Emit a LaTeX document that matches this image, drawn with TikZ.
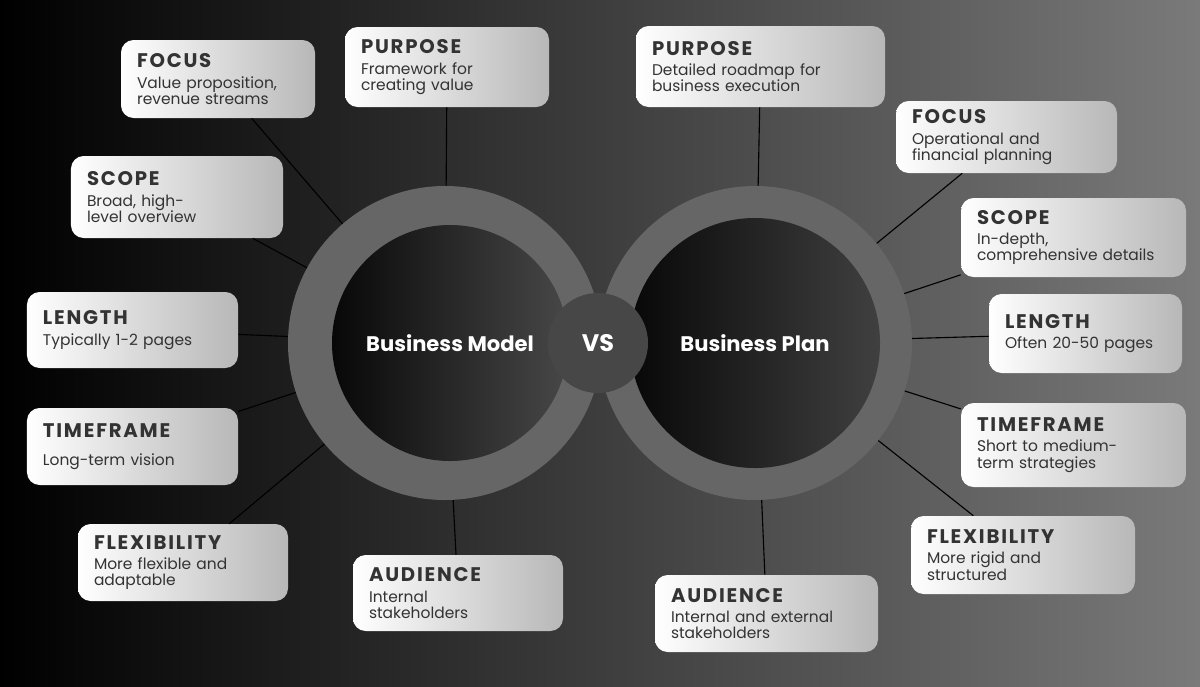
\documentclass[tikz,border=0pt]{standalone}
\usepackage{fontspec}
\setmainfont{Poppins}
\newfontfamily\titlefont[LetterSpace=9]{Poppins}
\usetikzlibrary{positioning}
\definecolor{ringgray}{HTML}{666666}
\definecolor{bgright}{HTML}{7A7A7A}
\definecolor{boxtext}{HTML}{333333}
\newcommand\cmpbox[7]{%
  \pgfmathsetmacro\bw{(#4-#2)*0.025}%
  \pgfmathsetmacro\bh{(#5-#3)*0.025}%
  \pgfmathsetmacro\tw{(#4-#2-32)*0.025}%
  \node[infobox, minimum width=\bw cm, minimum height=\bh cm, text width=\tw cm]
    (#1) at ({(#2+#4)/2},{(#3+#5)/2})
    {{\titlefont\bfseries\fontsize{14}{15}\selectfont #6}\\[3pt]#7};}
\begin{document}
\begin{tikzpicture}[
  x=0.025cm, y=-0.025cm,
  infobox/.style={rectangle, rounded corners=9pt, left color=white, right color=black!28,
    inner sep=0pt, align=left, text=boxtext, font=\fontsize{11}{11.5}\selectfont},
  ring/.style={circle, fill=ringgray, minimum size=314*0.025cm, inner sep=0pt},
  core/.style={circle, inner sep=0pt, text=white, font=\bfseries\fontsize{15}{17}\selectfont},
  link/.style={draw=black, line width=0.8pt}
]
% background
\shade[left color=black, right color=bgright] (0,0) rectangle (1200,686);
\useasboundingbox (0,0) rectangle (1200,686);

% rings
\node[ring] (lring) at (445,343) {};
\node[ring] (rring) at (755,343) {};
\node[core, minimum size=236*0.025cm, left color=black!97, right color=black!72] (lcore) at (450,343) {Business Model};
\node[core, minimum size=250*0.025cm, left color=black!97, right color=black!75] (rcore) at (755,343) {Business Plan};
\node[core, minimum size=100*0.025cm, fill=black!72, font=\bfseries\fontsize{17}{19}\selectfont] (vs) at (598,343) {VS};

% left boxes
\cmpbox{lfocus}{121}{40}{315}{118}{FOCUS}{Value proposition,\\revenue streams}
\cmpbox{lpurpose}{345}{27}{549}{107}{PURPOSE}{Framework for\\creating value}
\cmpbox{lscope}{71}{156}{283}{238}{SCOPE}{Broad, high-\\level overview}
\cmpbox{llength}{27}{292}{238}{368}{LENGTH}{Typically 1-2 pages}
\cmpbox{ltime}{27}{408}{238}{485}{TIMEFRAME}{\rule{0pt}{16pt}Long-term vision}
\cmpbox{lflex}{78}{524}{288}{601}{FLEXIBILITY}{More flexible and\\adaptable}
\cmpbox{laudience}{353}{555}{563}{631}{AUDIENCE}{Internal\\stakeholders}

% right boxes
\cmpbox{rpurpose}{636}{26}{885}{107}{PURPOSE}{Detailed roadmap for\\business execution}
\cmpbox{rfocus}{896}{101}{1117}{173}{FOCUS}{Operational and\\financial planning}
\cmpbox{rscope}{961}{198}{1186}{277}{SCOPE}{In-depth,\\comprehensive details}
\cmpbox{rlength}{989}{294}{1182}{373}{LENGTH}{Often 20-50 pages}
\cmpbox{rtime}{961}{403}{1186}{487}{TIMEFRAME}{Short to medium-\\term strategies}
\cmpbox{rflex}{911}{516}{1135}{594}{FLEXIBILITY}{More rigid and\\structured}
\cmpbox{raudience}{655}{575}{878}{652}{AUDIENCE}{Internal and external\\stakeholders}

% connectors
\foreach \b in {lfocus,lpurpose,lscope,llength,ltime,lflex,laudience}
  \draw[link] (\b) -- (lring);
\foreach \b in {rpurpose,rfocus,rscope,rlength,rtime,rflex,raudience}
  \draw[link] (\b) -- (rring);
\end{tikzpicture}
\end{document}
